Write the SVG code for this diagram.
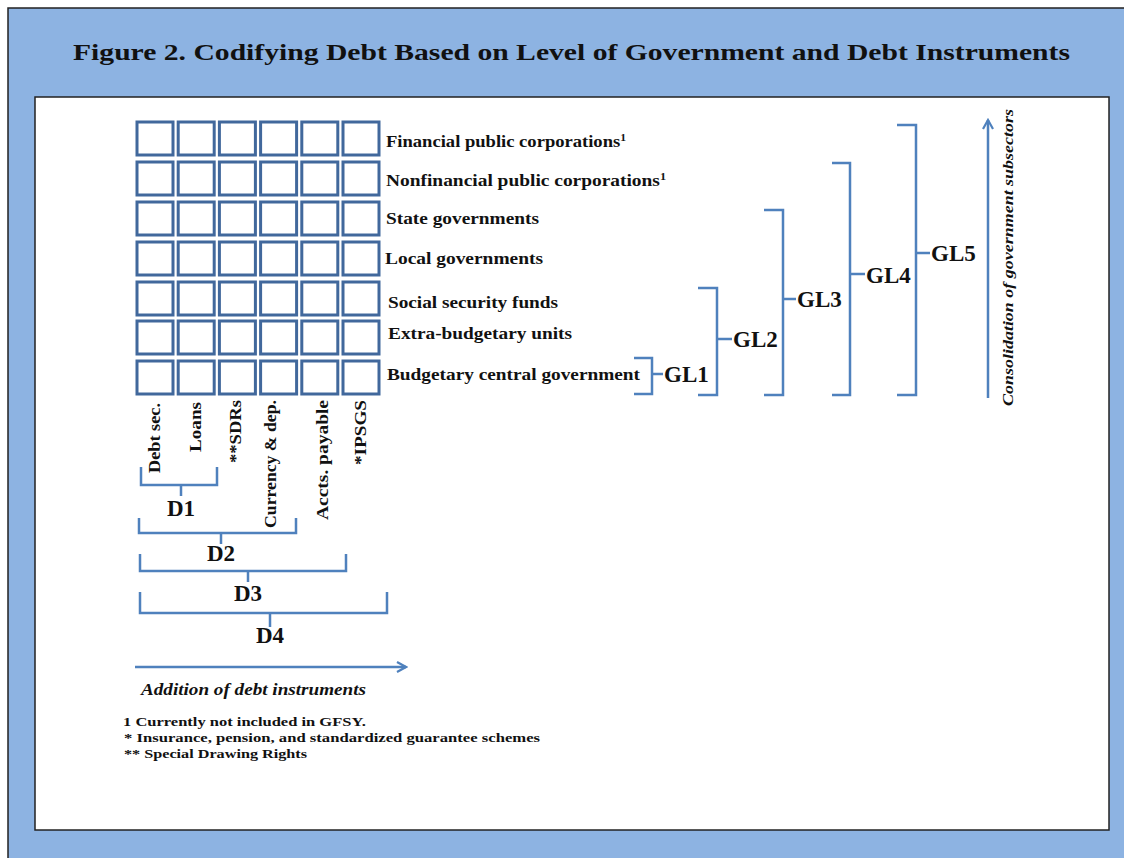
<svg xmlns="http://www.w3.org/2000/svg" width="1124" height="858" viewBox="0 0 1124 858">
<defs>
<style>
.t{font-family:"Liberation Serif","Times New Roman",serif;font-weight:bold;fill:#111}
.bi{font-style:italic}
.cell{fill:#fff;stroke:#41689C;stroke-width:3}
.br{fill:none;stroke:#4F81BD;stroke-width:2.5}
.ar{fill:none;stroke:#4F81BD;stroke-width:2.5}
</style>
<marker id="ah" viewBox="0 0 12 12" refX="10" refY="6" markerWidth="12" markerHeight="12" markerUnits="userSpaceOnUse" orient="auto">
<path d="M1,1 L10,6 L1,11" fill="none" stroke="#4F81BD" stroke-width="2.2"/>
</marker>
<symbol id="row" overflow="visible">
<rect class="cell" x="0" y="0" width="36" height="33"/>
<rect class="cell" x="41.2" y="0" width="36" height="33"/>
<rect class="cell" x="82.4" y="0" width="36" height="33"/>
<rect class="cell" x="123.6" y="0" width="36" height="33"/>
<rect class="cell" x="164.8" y="0" width="36" height="33"/>
<rect class="cell" x="206" y="0" width="36" height="33"/>
</symbol>
</defs>
<rect x="8" y="8" width="1120" height="860" fill="#8DB3E2" stroke="#222" stroke-width="1.5"/>
<rect x="35" y="97" width="1074" height="733" fill="#fff" stroke="#222" stroke-width="1.5"/>
<text class="t" x="73" y="60" font-size="24" textLength="997" lengthAdjust="spacingAndGlyphs">Figure 2. Codifying Debt Based on Level of Government and Debt Instruments</text>

<g id="grid">
<use href="#row" x="137" y="122"/>
<use href="#row" x="137" y="162"/>
<use href="#row" x="137" y="202"/>
<use href="#row" x="137" y="242"/>
<use href="#row" x="137" y="282"/>
<use href="#row" x="137" y="321"/>
<use href="#row" x="137" y="361"/>
</g>

<g id="row-labels" font-size="16">
<text class="t" x="386" y="147" textLength="240" lengthAdjust="spacingAndGlyphs">Financial public corporations<tspan font-size="10" dy="-6">1</tspan></text>
<text class="t" x="386" y="186" textLength="280" lengthAdjust="spacingAndGlyphs">Nonfinancial public corporations<tspan font-size="10" dy="-6">1</tspan></text>
<text class="t" x="386" y="224" textLength="153" lengthAdjust="spacingAndGlyphs">State governments</text>
<text class="t" x="385" y="264" textLength="158" lengthAdjust="spacingAndGlyphs">Local governments</text>
<text class="t" x="388" y="308" textLength="170" lengthAdjust="spacingAndGlyphs">Social security funds</text>
<text class="t" x="388" y="339" textLength="184" lengthAdjust="spacingAndGlyphs">Extra-budgetary units</text>
<text class="t" x="387" y="380" textLength="253" lengthAdjust="spacingAndGlyphs">Budgetary central government</text>
</g>

<g id="col-labels" font-size="16">
<text class="t" transform="translate(160,473) rotate(-90)" textLength="70" lengthAdjust="spacingAndGlyphs">Debt sec.</text>
<text class="t" transform="translate(201,452) rotate(-90)" textLength="50" lengthAdjust="spacingAndGlyphs">Loans</text>
<text class="t" transform="translate(241,463) rotate(-90)" textLength="63" lengthAdjust="spacingAndGlyphs">**SDRs</text>
<text class="t" transform="translate(276,528) rotate(-90)" textLength="128" lengthAdjust="spacingAndGlyphs">Currency &amp; dep.</text>
<text class="t" transform="translate(328,520) rotate(-90)" textLength="120" lengthAdjust="spacingAndGlyphs">Accts. payable</text>
<text class="t" transform="translate(366,465) rotate(-90)" textLength="65" lengthAdjust="spacingAndGlyphs">*IPSGS</text>
</g>

<g id="connectors">
<path class="br" d="M141,467 V485 H217 V467 M181,485 V496"/>
<path class="br" d="M139,518 V533 H296 V518 M221,533 V544"/>
<path class="br" d="M140,554 V571 H346 V554 M248,571 V582"/>
<path class="br" d="M140,592 V613 H387 V592 M270,613 V627"/>
<path class="br" d="M634,358 H652 V394 H634 M652,374 H663"/>
<path class="br" d="M698,288 H717 V395 H698 M717,339 H732"/>
<path class="br" d="M764,210 H783 V395 H764 M783,299 H796"/>
<path class="br" d="M832,163 H850 V395 H832 M850,274 H865"/>
<path class="br" d="M897,125 H916 V395 H897 M916,253 H930"/>
<line class="ar" x1="135" y1="667" x2="406" y2="667" marker-end="url(#ah)"/>
<line class="ar" x1="988" y1="398" x2="988" y2="120" marker-end="url(#ah)"/>
</g>

<g id="d-labels" font-size="23">
<text class="t" x="181" y="516" text-anchor="middle">D1</text>
<text class="t" x="221" y="561" text-anchor="middle">D2</text>
<text class="t" x="248" y="601" text-anchor="middle">D3</text>
<text class="t" x="270" y="643" text-anchor="middle">D4</text>
</g>

<g id="gl-labels" font-size="23">
<text class="t" x="664" y="382">GL1</text>
<text class="t" x="733" y="347">GL2</text>
<text class="t" x="797" y="307">GL3</text>
<text class="t" x="866" y="283">GL4</text>
<text class="t" x="931" y="261">GL5</text>
</g>

<text class="t bi" x="141" y="695" font-size="16" textLength="225" lengthAdjust="spacingAndGlyphs">Addition of debt instruments</text>
<text class="t bi" transform="translate(1013,406) rotate(-90)" font-size="15" textLength="297" lengthAdjust="spacingAndGlyphs">Consolidation of government subsectors</text>

<g id="footnotes" font-size="12.5">
<text class="t" x="123" y="726" textLength="243" lengthAdjust="spacingAndGlyphs">1 Currently not included in GFSY.</text>
<text class="t" x="124" y="742" textLength="416" lengthAdjust="spacingAndGlyphs">* Insurance, pension, and standardized guarantee schemes</text>
<text class="t" x="124" y="758" textLength="183" lengthAdjust="spacingAndGlyphs">** Special Drawing Rights</text>
</g>
</svg>
